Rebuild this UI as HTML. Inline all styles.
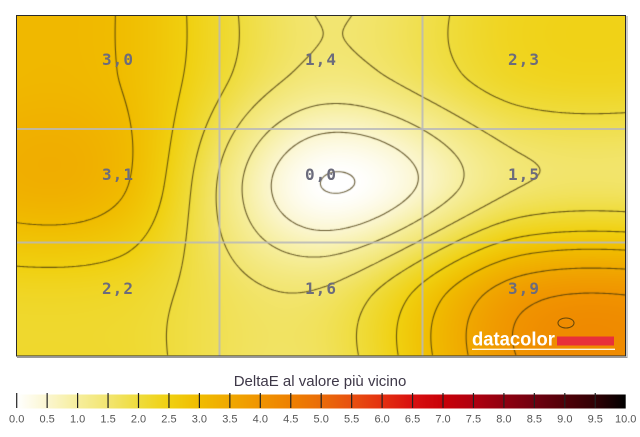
<!DOCTYPE html>
<html><head><meta charset="utf-8">
<style>
html,body{margin:0;padding:0;background:#fff;}
body{width:640px;height:437px;position:relative;overflow:hidden;}
#fb{position:absolute;left:16px;top:15px;width:610px;height:341px;
background:
radial-gradient(ellipse 120px 95px at 318px 170px,#fff 0%,rgba(250,246,205,0.95) 35%,rgba(245,235,130,0) 100%),
radial-gradient(ellipse 130px 90px at 550px 310px,#f09400 0%,rgba(240,160,0,0.75) 50%,rgba(240,180,0,0) 100%),
radial-gradient(ellipse 110px 150px at 60px 130px,#f0b800 0%,rgba(240,190,0,0) 100%),
#f0d838;}
#c{position:absolute;left:16px;top:15px;}
svg{position:absolute;left:0;top:0;}
</style></head>
<body>
<div id="fb"></div>
<canvas id="c" width="610" height="341"></canvas>
<svg width="640" height="437" viewBox="0 0 640 437" xmlns="http://www.w3.org/2000/svg">
<defs>
<linearGradient id="lg" x1="0" y1="0" x2="1" y2="0">
<stop offset="0" stop-color="#ffffff"/>
<stop offset="0.05" stop-color="#fbf6d0"/>
<stop offset="0.10" stop-color="#f6ee9c"/>
<stop offset="0.15" stop-color="#f2e570"/>
<stop offset="0.20" stop-color="#efdc3c"/>
<stop offset="0.25" stop-color="#f0d010"/>
<stop offset="0.30" stop-color="#f0bc00"/>
<stop offset="0.35" stop-color="#f0a800"/>
<stop offset="0.40" stop-color="#f09400"/>
<stop offset="0.45" stop-color="#ee8000"/>
<stop offset="0.50" stop-color="#ea6c08"/>
<stop offset="0.55" stop-color="#e85010"/>
<stop offset="0.60" stop-color="#e43010"/>
<stop offset="0.65" stop-color="#d81010"/>
<stop offset="0.70" stop-color="#c80008"/>
<stop offset="0.75" stop-color="#b00010"/>
<stop offset="0.80" stop-color="#900010"/>
<stop offset="0.85" stop-color="#700010"/>
<stop offset="0.90" stop-color="#500008"/>
<stop offset="0.95" stop-color="#300004"/>
<stop offset="1" stop-color="#000000"/>
</linearGradient>
</defs>
<ellipse cx="566" cy="323" rx="8" ry="5" fill="none" stroke="rgba(70,55,10,0.8)" stroke-width="1.1"/>
<g stroke="rgba(185,185,185,0.85)" stroke-width="2">
<line x1="219.5" y1="15" x2="219.5" y2="356"/>
<line x1="422.5" y1="15" x2="422.5" y2="356"/>
<line x1="16" y1="129" x2="626" y2="129"/>
<line x1="16" y1="242.5" x2="626" y2="242.5"/>
</g>
<line x1="627" y1="16" x2="627" y2="357.5" stroke="#999" stroke-width="1"/>
<line x1="17" y1="357.5" x2="627.5" y2="357.5" stroke="#999" stroke-width="1"/>
<rect x="16.5" y="15.5" width="609" height="340.5" fill="none" stroke="#2a2a2a" stroke-width="1"/>
<g font-family="'DejaVu Sans Mono','Liberation Mono',monospace" font-weight="bold" font-size="16" fill="#6c6c7c" text-anchor="middle" letter-spacing="1">
<text x="118" y="65">3,0</text>
<text x="321" y="65">1,4</text>
<text x="524" y="65">2,3</text>
<text x="118" y="180">3,1</text>
<text x="321" y="180">0,0</text>
<text x="524" y="180">1,5</text>
<text x="118" y="294">2,2</text>
<text x="321" y="294">1,6</text>
<text x="524" y="294">3,9</text>
</g>
<text x="472" y="345.5" font-family="'Liberation Sans',Arial,sans-serif" font-weight="bold" font-size="19" fill="#ffffff" textLength="83" lengthAdjust="spacingAndGlyphs">datacolor</text>
<rect x="557" y="336.5" width="57" height="9" fill="#e8303a"/>
<line x1="472" y1="349.3" x2="615" y2="349.3" stroke="#fff6e0" stroke-width="1.3"/>
<text x="320" y="386" font-family="'Liberation Sans',Arial,sans-serif" font-size="15" fill="#3e3848" text-anchor="middle">DeltaE al valore più vicino</text>
<rect x="16.7" y="394.5" width="609" height="14" fill="url(#lg)"/>
<g id="ticks" stroke="#222" stroke-width="1.2"></g>
<g id="tl" font-family="'Liberation Sans',Arial,sans-serif" font-size="11" fill="#555" text-anchor="middle"></g>
</svg>
<script>
(function(){
var ns="http://www.w3.org/2000/svg";
var tk=document.getElementById('ticks'),tl=document.getElementById('tl');
for(var i=0;i<=20;i++){
 var x=16.7+i*30.45;
 if(i<20){var l=document.createElementNS(ns,'line');l.setAttribute('x1',x);l.setAttribute('x2',x);l.setAttribute('y1',393);l.setAttribute('y2',408);tk.appendChild(l);}
 var t=document.createElementNS(ns,'text');t.setAttribute('x',x);t.setAttribute('y',422.5);t.textContent=(i/2).toFixed(1);tl.appendChild(t);
}
})();
(function(){
try{
var W=610,H=341;
var cv=document.getElementById('c');var ctx=cv.getContext('2d');
var Z=[[3.0,1.4,2.3],[3.1,0.0,1.5],[2.2,1.6,3.9]];
var A=-0.5;
function K(t){t=Math.abs(t);if(t<=1)return (A+2)*t*t*t-(A+3)*t*t+1;if(t<2)return A*t*t*t-5*A*t*t+8*A*t-4*A;return 0;}
function cl(i){return i<0?0:(i>2?2:i);}
function f(x,y){
 var ix=Math.floor(x),iy=Math.floor(y),v=0;
 for(var j=iy-1;j<=iy+2;j++){var ky=K(y-j);if(ky===0)continue;var row=Z[cl(j)];
  for(var i=ix-1;i<=ix+2;i++){var kx=K(x-i);if(kx===0)continue;v+=row[cl(i)]*kx*ky;}}
 return v;}
function val(px,py){return f((px+0.5)*3/W-0.5,(py+0.5)*3/H-0.5);}
var stops=["ffffff","fbf6d0","f6ee9c","f2e570","efdc3c","f0d010","f0bc00","f0a800","f09400","ee8000","ea6c08","e85010","e43010","d81010","c80008","b00010","900010","700010","500008","300004","000000"].map(function(h){return [parseInt(h.substr(0,2),16),parseInt(h.substr(2,2),16),parseInt(h.substr(4,2),16)];});
function col(v){if(v<0)v=0;if(v>10)v=10;var t=v*2;var a=Math.floor(t);if(a>=20)a=19;var fr=t-a;var c0=stops[a],c1=stops[a+1];return [c0[0]+(c1[0]-c0[0])*fr,c0[1]+(c1[1]-c0[1])*fr,c0[2]+(c1[2]-c0[2])*fr];}
var img=ctx.createImageData(W,H);var d=img.data;
for(var y=0;y<H;y++)for(var x=0;x<W;x++){var cc=col(val(x,y));var o=(y*W+x)*4;d[o]=cc[0];d[o+1]=cc[1];d[o+2]=cc[2];d[o+3]=255;}
ctx.putImageData(img,0,0);
var g=2,nx=Math.floor(W/g)+1,ny=Math.floor(H/g)+1,V=[],i,j;
for(j=0;j<ny;j++){var rr=[];for(i=0;i<nx;i++)rr.push(val(i*g,j*g));V.push(rr);}
ctx.strokeStyle='rgba(70,55,10,0.8)';ctx.lineWidth=1.1;ctx.beginPath();
for(var L=0;L<=10.001;L+=0.5){
 for(j=0;j<ny-1;j++)for(i=0;i<nx-1;i++){
  var a=V[j][i],bb=V[j][i+1],c2=V[j+1][i+1],dd=V[j+1][i];
  var x0=i*g,y0=j*g,pts=[];
  if((a<L)!==(bb<L))pts.push([x0+g*(L-a)/(bb-a),y0]);
  if((bb<L)!==(c2<L))pts.push([x0+g,y0+g*(L-bb)/(c2-bb)]);
  if((dd<L)!==(c2<L))pts.push([x0+g*(L-dd)/(c2-dd),y0+g]);
  if((a<L)!==(dd<L))pts.push([x0,y0+g*(L-a)/(dd-a)]);
  if(pts.length>=2){ctx.moveTo(pts[0][0],pts[0][1]);ctx.lineTo(pts[1][0],pts[1][1]);}
  if(pts.length===4){ctx.moveTo(pts[2][0],pts[2][1]);ctx.lineTo(pts[3][0],pts[3][1]);}
 }
}
ctx.stroke();
}catch(e){}
})();
</script>
</body></html>
